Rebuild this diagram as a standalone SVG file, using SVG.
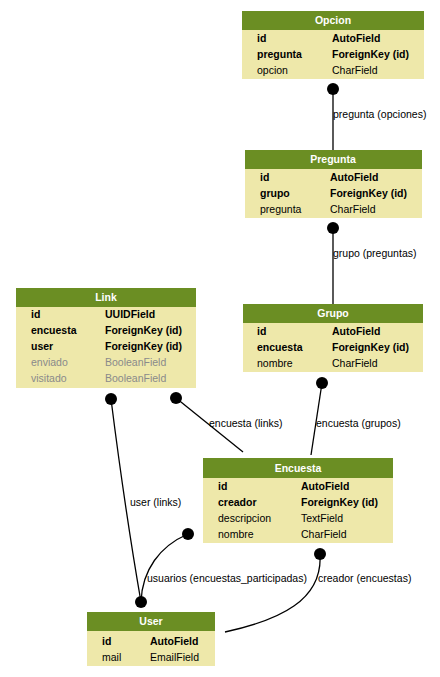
<svg xmlns="http://www.w3.org/2000/svg" width="440" height="677" viewBox="0 0 440 677">
  <style>
    .hdr { fill: #6b8e23; }
    .body { fill: #eee8aa; }
    .title { font-family: "Liberation Sans", Arial, sans-serif; font-size: 10.5px; font-weight: bold; fill: #ffffff; text-anchor: middle; }
    .f { font-family: "Liberation Sans", Arial, sans-serif; font-size: 10.5px; fill: #000000; }
    .k { font-weight: bold; }
    .dim { fill: #8a8a8a; }
    .edge { fill: none; stroke: #000000; stroke-width: 1.3; }
    .dot { fill: #000000; }
    .lbl { font-family: "Liberation Sans", Arial, sans-serif; font-size: 10.5px; fill: #000000; }
  </style>
  <rect width="440" height="677" fill="#ffffff"/>

  <!-- connectors -->
  <g id="connectors">
    <path class="edge" d="M333,89 L333,150"/>
    <circle class="dot" cx="333" cy="89" r="6"/>
    <text class="lbl" x="333" y="118">pregunta (opciones)</text>

    <path class="edge" d="M333,228 L333,304"/>
    <circle class="dot" cx="333" cy="228" r="6"/>
    <text class="lbl" x="333" y="257">grupo (preguntas)</text>

    <path class="edge" d="M322,383 L311,455"/>
    <circle class="dot" cx="322" cy="383" r="6"/>
    <text class="lbl" x="316" y="427">encuesta (grupos)</text>

    <path class="edge" d="M176,398 L243,452"/>
    <circle class="dot" cx="176" cy="398" r="6"/>
    <text class="lbl" x="209" y="427">encuesta (links)</text>

    <path class="edge" d="M111,399 Q125,510 141,602"/>
    <circle class="dot" cx="111" cy="399" r="6"/>
    <text class="lbl" x="130" y="506">user (links)</text>

    <path class="edge" d="M188,534 C160,546 142,570 141,602"/>
    <circle class="dot" cx="188" cy="534" r="6"/>
    <circle class="dot" cx="141" cy="602" r="6"/>
    <text class="lbl" x="147" y="582">usuarios (encuestas_participadas)</text>

    <path class="edge" d="M320,554 C323,600 280,620 225,632"/>
    <circle class="dot" cx="320" cy="554" r="6"/>
    <text class="lbl" x="318" y="582">creador (encuestas)</text>
  </g>

  <!-- Opcion -->
  <g id="opcion">
    <rect class="body" x="242" y="11" width="182" height="68"/>
    <rect class="hdr" x="242" y="11" width="182" height="19"/>
    <text class="title" x="333" y="24">Opcion</text>
    <text class="f k" x="257" y="42">id</text><text class="f k" x="332" y="42">AutoField</text>
    <text class="f k" x="257" y="58">pregunta</text><text class="f k" x="332" y="58">ForeignKey (id)</text>
    <text class="f" x="257" y="74">opcion</text><text class="f" x="332" y="74">CharField</text>
  </g>

  <!-- Pregunta -->
  <g id="pregunta">
    <rect class="body" x="245" y="150" width="177" height="68"/>
    <rect class="hdr" x="245" y="150" width="177" height="19"/>
    <text class="title" x="333" y="163">Pregunta</text>
    <text class="f k" x="260" y="181">id</text><text class="f k" x="330" y="181">AutoField</text>
    <text class="f k" x="260" y="197">grupo</text><text class="f k" x="330" y="197">ForeignKey (id)</text>
    <text class="f" x="260" y="213">pregunta</text><text class="f" x="330" y="213">CharField</text>
  </g>

  <!-- Link -->
  <g id="link">
    <rect class="body" x="16" y="288" width="180" height="100"/>
    <rect class="hdr" x="16" y="288" width="180" height="19"/>
    <text class="title" x="106" y="301">Link</text>
    <text class="f k" x="31" y="318">id</text><text class="f k" x="105" y="318">UUIDField</text>
    <text class="f k" x="31" y="334">encuesta</text><text class="f k" x="105" y="334">ForeignKey (id)</text>
    <text class="f k" x="31" y="350">user</text><text class="f k" x="105" y="350">ForeignKey (id)</text>
    <text class="f dim" x="31" y="366">enviado</text><text class="f dim" x="105" y="366">BooleanField</text>
    <text class="f dim" x="31" y="382">visitado</text><text class="f dim" x="105" y="382">BooleanField</text>
  </g>

  <!-- Grupo -->
  <g id="grupo">
    <rect class="body" x="243" y="304" width="180" height="68"/>
    <rect class="hdr" x="243" y="304" width="180" height="19"/>
    <text class="title" x="333" y="317">Grupo</text>
    <text class="f k" x="257" y="335">id</text><text class="f k" x="332" y="335">AutoField</text>
    <text class="f k" x="257" y="351">encuesta</text><text class="f k" x="332" y="351">ForeignKey (id)</text>
    <text class="f" x="257" y="367">nombre</text><text class="f" x="332" y="367">CharField</text>
  </g>

  <!-- Encuesta -->
  <g id="encuesta">
    <rect class="body" x="203" y="458" width="190" height="85"/>
    <rect class="hdr" x="203" y="458" width="190" height="20"/>
    <text class="title" x="298" y="472">Encuesta</text>
    <text class="f k" x="218" y="490">id</text><text class="f k" x="301" y="490">AutoField</text>
    <text class="f k" x="218" y="506">creador</text><text class="f k" x="301" y="506">ForeignKey (id)</text>
    <text class="f" x="218" y="522">descripcion</text><text class="f" x="301" y="522">TextField</text>
    <text class="f" x="218" y="538">nombre</text><text class="f" x="301" y="538">CharField</text>
  </g>

  <!-- User -->
  <g id="user">
    <rect class="body" x="87" y="612" width="128" height="54"/>
    <rect class="hdr" x="87" y="612" width="128" height="19"/>
    <text class="title" x="151" y="625">User</text>
    <text class="f k" x="102" y="645">id</text><text class="f k" x="150" y="645">AutoField</text>
    <text class="f" x="102" y="661">mail</text><text class="f" x="150" y="661">EmailField</text>
  </g>
</svg>
